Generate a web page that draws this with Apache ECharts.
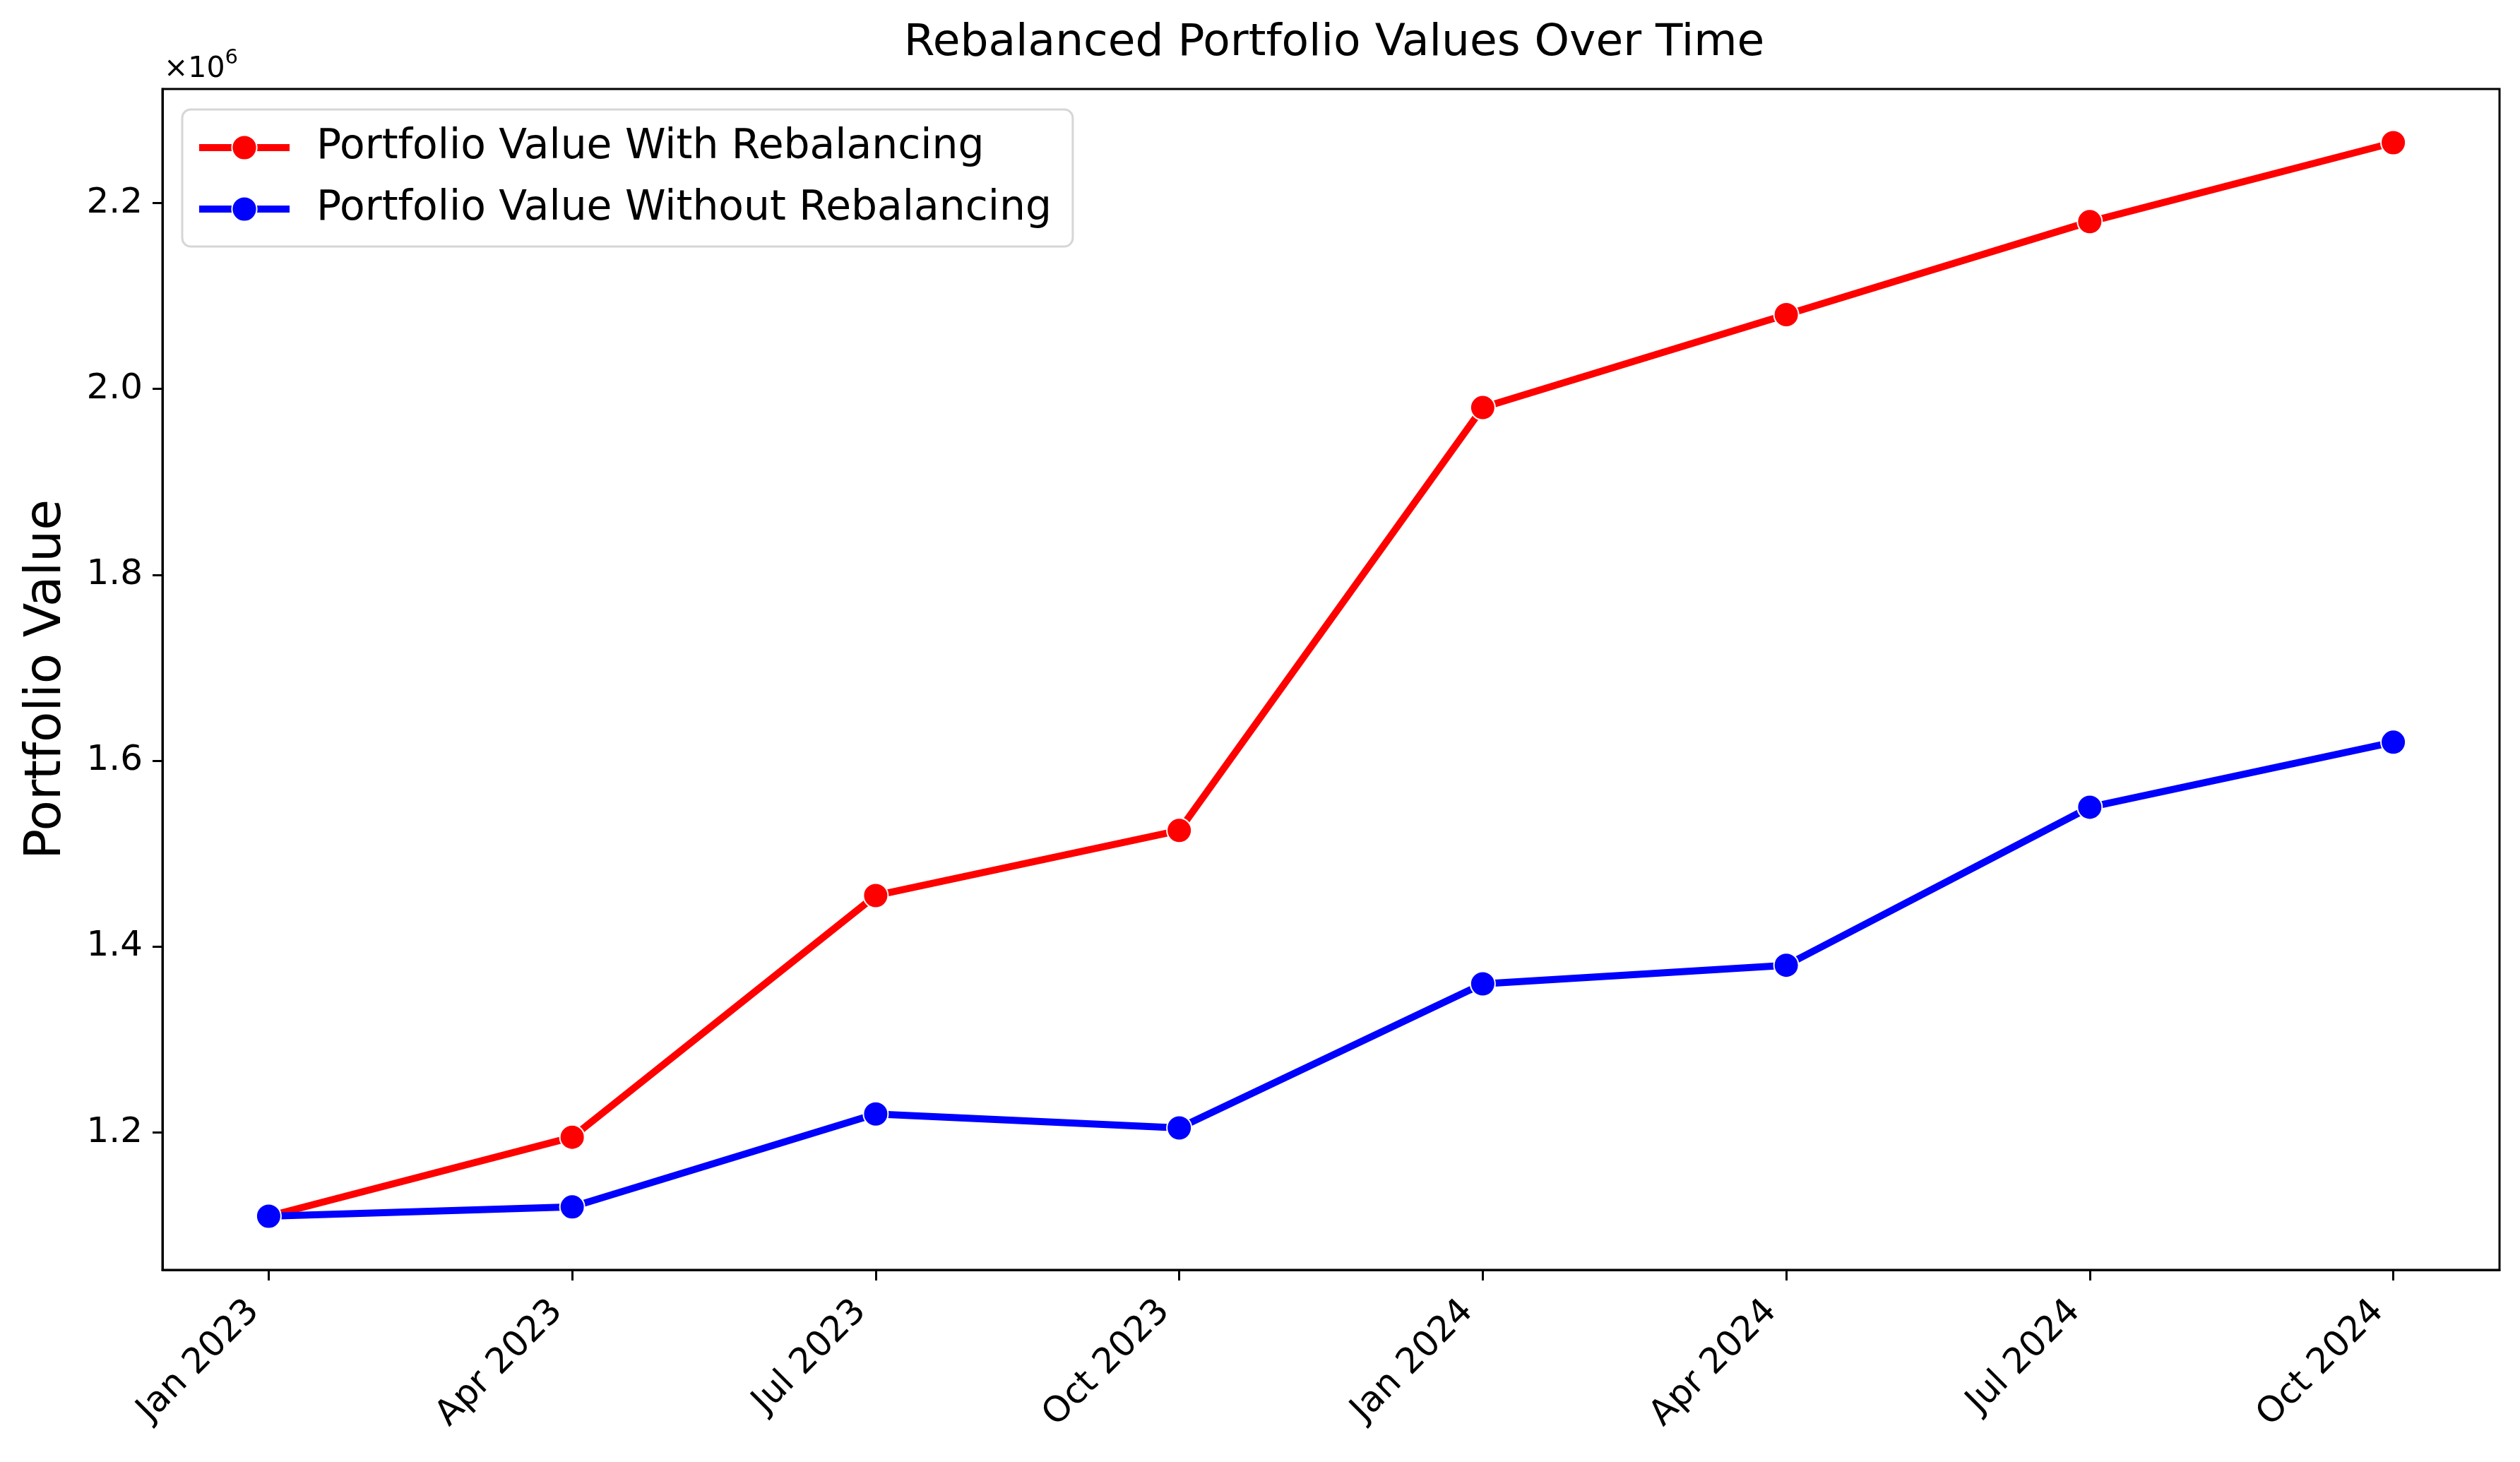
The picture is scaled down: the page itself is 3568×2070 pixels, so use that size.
<!DOCTYPE html>
<html>
<head>
<meta charset="utf-8">
<script src="https://cdn.jsdelivr.net/npm/echarts@6/dist/echarts.min.js"></script>
<style>
html,body{margin:0;padding:0;background:#fff;}
#chart{width:3568px;height:2070px;}
</style>
</head>
<body>
<div id="chart"></div>
<script>
// ---- data ----
const categories = ['Jan 2023','Apr 2023','Jul 2023','Oct 2023','Jan 2024','Apr 2024','Jul 2024','Oct 2024'];
const withRebalancing = [1110000, 1195000, 1455000, 1525000, 1980000, 2080000, 2180000, 2265000];
const withoutRebalancing = [1110000, 1120000, 1220000, 1205000, 1360000, 1380000, 1550000, 1620000];
const yTicks = [1200000, 1400000, 1600000, 1800000, 2000000, 2200000];
const xTicks = [0,1,2,3,4,5,6,7];

const FONT = 'DejaVu Sans';
const toPairs = arr => arr.map((v,i)=>[i,v]);

// matplotlib-style 5% margins
const allVals = withRebalancing.concat(withoutRebalancing);
const yMinD = Math.min(...allVals), yMaxD = Math.max(...allVals);
const yPad = (yMaxD - yMinD) * 0.05;
const xPad = (categories.length - 1) * 0.05;

const chart = echarts.init(document.getElementById('chart'), null, {renderer:'canvas'});
chart.setOption({
  animation:false,
  backgroundColor:'#ffffff',
  title:{
    text:'Rebalanced Portfolio Values Over Time',
    left:1884, top:25, textAlign:'center',
    textStyle:{fontFamily:FONT, fontSize:63, fontWeight:'normal', color:'#000'}
  },
  grid:{left:230, right:29, top:126, bottom:272, show:true, borderColor:'#000', borderWidth:3, containLabel:false},
  legend:{
    orient:'vertical', left:258, top:155,
    itemWidth:128, itemHeight:44, itemGap:29,
    padding:[25,30,24,19],
    backgroundColor:'#fff',
    borderColor:'#d6d6d6', borderWidth:3, borderRadius:12,
    lineStyle:{width:10},
    itemStyle:{borderColor:'#fff', borderWidth:2},
    textStyle:{fontFamily:FONT, fontSize:58.3, color:'#000', padding:[0,0,0,33]},
    data:['Portfolio Value With Rebalancing','Portfolio Value Without Rebalancing']
  },
  xAxis:{
    type:'value', min:-xPad, max:categories.length-1+xPad,
    axisLine:{show:true, onZero:false, lineStyle:{color:'#000', width:3}},
    axisTick:{show:true, length:15, lineStyle:{color:'#000', width:3}, customValues:xTicks},
    axisLabel:{customValues:xTicks, rotate:45, margin:30, padding:[0,30,0,0], fontFamily:FONT, fontSize:50, color:'#000',
      formatter:v=>categories[Math.round(v)]},
    splitLine:{show:false}
  },
  yAxis:{
    type:'value', min:yMinD-yPad, max:yMaxD+yPad,
    name:'Portfolio Value', nameLocation:'middle', nameGap:128,
    nameTextStyle:{fontFamily:FONT, fontSize:71, color:'#000'},
    axisLine:{show:true, onZero:false, lineStyle:{color:'#000', width:3}},
    axisTick:{show:true, length:14, lineStyle:{color:'#000', width:3}, customValues:yTicks},
    axisLabel:{customValues:yTicks, margin:28, fontFamily:FONT, fontSize:50, color:'#000',
      formatter:v=>(v/1e6).toFixed(1)},
    splitLine:{show:false}
  },
  graphic:[{
    type:'text', left:232, top:68,
    style:{
      text:'{a|×10}{s|6}',
      rich:{
        a:{fontFamily:FONT, fontSize:41, fill:'#000', verticalAlign:'bottom'},
        s:{fontFamily:FONT, fontSize:29, fill:'#000', verticalAlign:'top', padding:[0,0,22,0]}
      }
    }
  }],
  series:[
    {
      name:'Portfolio Value With Rebalancing', type:'line', data:toPairs(withRebalancing),
      lineStyle:{color:'#ff0000', width:10}, itemStyle:{color:'#ff0000', borderColor:'#fff', borderWidth:2},
      symbol:'circle', symbolSize:35, showSymbol:true, z:2
    },
    {
      name:'Portfolio Value Without Rebalancing', type:'line', data:toPairs(withoutRebalancing),
      lineStyle:{color:'#0000ff', width:10}, itemStyle:{color:'#0000ff', borderColor:'#fff', borderWidth:2},
      symbol:'circle', symbolSize:35, showSymbol:true, z:3
    }
  ]
});
</script>
</body>
</html>
